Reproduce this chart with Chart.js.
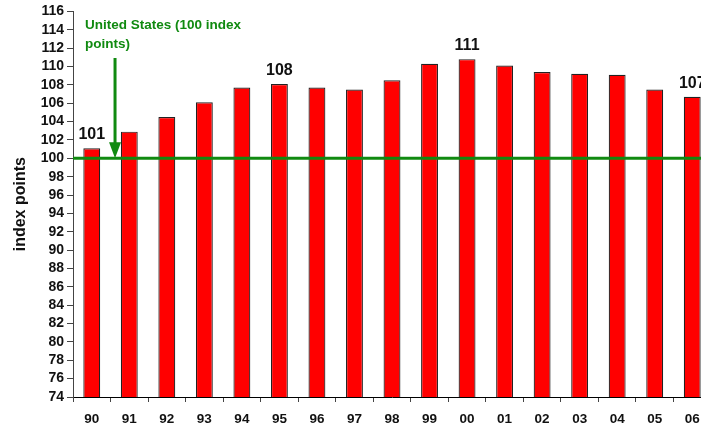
<!DOCTYPE html>
<html>
<head>
<meta charset="utf-8">
<script src="https://cdn.jsdelivr.net/npm/chart.js@4"></script>
<style>
html,body{margin:0;padding:0;background:#fff;overflow:hidden;}
#wrap{width:711px;height:428px;}
</style>
</head>
<body>
<div id="wrap"><canvas id="c" width="711" height="428"></canvas></div>
<script>
const years = ['90','91','92','93','94','95','96','97','98','99','00','01','02','03','04','05','06'];
const indexValues = [101.1,102.9,104.5,106.1,107.7,108.1,107.7,107.5,108.5,110.3,110.8,110.1,109.4,109.2,109.1,107.5,106.7];
const valueLabels = ['101','','','','','108','','','','','111','','','','','','107'];
const usLevel = 100;
const annotationLines = ['United States (100 index', 'points)'];
const yMin = 74, yMax = 116, yStep = 2;

const FONT = '"Liberation Sans", Arial, sans-serif';
const GREEN = '#108a10';

const overlay = {
  id: 'overlay',
  afterDatasetsDraw(chart) {
    const ctx = chart.ctx;
    const xs = chart.scales.x, ys = chart.scales.y;
    const area = chart.chartArea;
    const y100 = ys.getPixelForValue(usLevel);
    ctx.save();
    ctx.strokeStyle = GREEN;
    ctx.lineWidth = 3;
    ctx.beginPath();
    ctx.moveTo(area.left, y100);
    ctx.lineTo(chart.width, y100);
    ctx.stroke();
    const meta = chart.getDatasetMeta(0);
    ctx.fillStyle = '#111';
    ctx.font = 'bold 16px ' + FONT;
    ctx.textAlign = 'center';
    ctx.textBaseline = 'alphabetic';
    valueLabels.forEach((t, i) => {
      if (!t) return;
      const el = meta.data[i];
      ctx.fillText(t, el.x, el.y - 9);
    });
    ctx.fillStyle = GREEN;
    ctx.font = 'bold 13.5px ' + FONT;
    ctx.textAlign = 'left';
    ctx.textBaseline = 'middle';
    ctx.fillText(annotationLines[0], 85, 25);
    ctx.fillText(annotationLines[1], 85, 44);
    const ax = xs.getPixelForValue(0) + 0.62 * (xs.getPixelForValue(1) - xs.getPixelForValue(0));
    ctx.strokeStyle = GREEN;
    ctx.lineWidth = 3;
    ctx.beginPath();
    ctx.moveTo(ax, 58);
    ctx.lineTo(ax, y100 - 10);
    ctx.stroke();
    ctx.fillStyle = GREEN;
    ctx.beginPath();
    ctx.moveTo(ax - 6, y100 - 16);
    ctx.lineTo(ax + 6, y100 - 16);
    ctx.lineTo(ax, y100);
    ctx.closePath();
    ctx.fill();
    ctx.restore();
  }
};

new Chart(document.getElementById('c'), {
  type: 'bar',
  data: {
    labels: years,
    datasets: [{
      data: indexValues,
      backgroundColor: '#ff0000',
      borderColor: '#222222',
      borderWidth: 1.2,
      borderSkipped: 'bottom',
      categoryPercentage: 1,
      barPercentage: 0.45
    }]
  },
  options: {
    responsive: false,
    animation: false,
    layout: { padding: { top: 8, right: 0, left: 0, bottom: 0 } },
    plugins: { legend: { display: false }, tooltip: { enabled: false } },
    scales: {
      x: {
        grid: { display: true, drawOnChartArea: false, drawTicks: true, tickLength: 5, color: '#444', offset: true },
        border: { display: true, color: '#000', width: 1 },
        ticks: { color: '#111', font: { family: FONT, size: 13.5, weight: 'bold' }, padding: 9, maxRotation: 0 },
        afterFit(s) { s.height = 31; }
      },
      y: {
        min: yMin, max: yMax,
        grid: { display: true, drawOnChartArea: false, drawTicks: true, tickLength: 6, color: '#444' },
        border: { display: true, color: '#444', width: 1 },
        ticks: { stepSize: yStep, color: '#111', font: { family: FONT, size: 14, weight: 'bold' }, padding: 3, autoSkip: false },
        title: { display: true, text: 'index points', color: '#111', font: { family: FONT, size: 16, weight: 'bold' }, padding: { top: 11, bottom: 0 } },
        afterFit(s) { s.width = 73; }
      }
    }
  },
  plugins: [overlay]
});
</script>
</body>
</html>
